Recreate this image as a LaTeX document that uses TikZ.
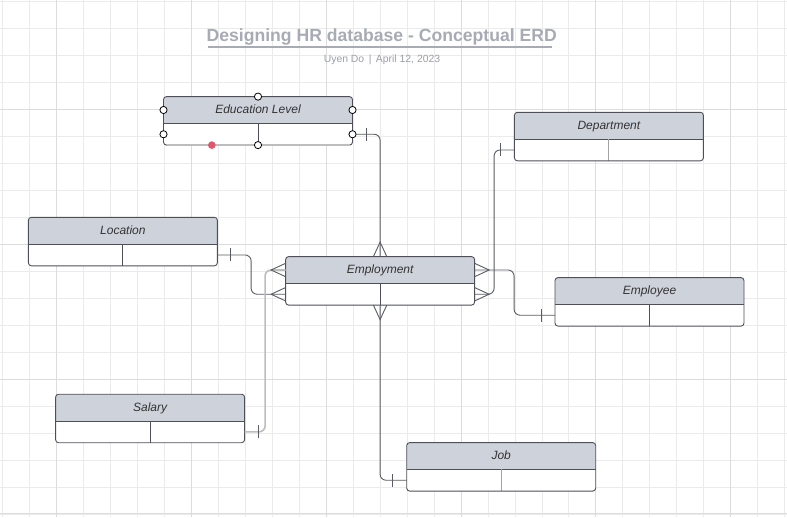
\documentclass[tikz,border=0pt]{standalone}
\usepackage{fontspec}
\setmainfont{Liberation Sans}
\usetikzlibrary{calc}
\definecolor{hdr}{HTML}{CED3DB}
\definecolor{bord}{HTML}{4D5058}
\definecolor{conncol}{HTML}{595C62}
\definecolor{gridminor}{HTML}{EBEBEB}
\definecolor{gridmajor}{HTML}{DCDCDC}
\definecolor{titlecol}{HTML}{A6ABB4}
\definecolor{subcol}{HTML}{9B9FA6}
\definecolor{selcol}{HTML}{BDBDBD}
\definecolor{reddot}{HTML}{E0566B}
\definecolor{lightdiv}{HTML}{A3A3A3}
\definecolor{textcol}{HTML}{333333}
\tikzset{
  boxframe/.style={rectangle, minimum width=189pt, minimum height=48.5pt, inner sep=0pt, outer sep=0pt, draw=none},
  lbl/.style={font=\fontsize{12}{14}\selectfont\itshape, text=textcol, inner sep=0pt, anchor=base},
  conn/.style={draw=conncol, line width=0.9pt},
  rc/.style={rounded corners=6pt},
  handle/.style={draw=black, fill=white, line width=0.8pt},
  minorline/.style={draw=gridminor, line width=0.8pt},
  majorline/.style={draw=gridmajor, line width=1pt}
}
% name, x, y (top-left), label, divider colour
\newcommand\erbox[5]{%
  \node[boxframe] (#1) at ({#2+94.5},{#3+24.25}) {};
  \coordinate (#1-hl) at ($(#1.north west)+(0,13.4)$);
  \coordinate (#1-hr) at ($(#1.north east)+(0,13.4)$);
  \coordinate (#1-bl) at ($(#1.north west)+(0,37.65)$);
  \coordinate (#1-br) at ($(#1.north east)+(0,37.65)$);
  \coordinate (#1-hbl) at ($(#1.north west)+(0,26.8)$);
  \coordinate (#1-hbr) at ($(#1.north east)+(0,26.8)$);
  \fill[white, rounded corners=3pt] (#1.north west) rectangle (#1.south east);
  \fill[hdr, rounded corners=3pt] (#1.north west) rectangle (#1-hbr);
  \fill[hdr] ($(#1-hbl)+(0,-4)$) rectangle (#1-hbr);
  \draw[bord, line width=0.9pt] (#1-hbl) -- (#1-hbr);
  \draw[#5, line width=0.9pt] (#1.south) -- ($(#1.north)+(0,26.8)$);
  \draw[bord, rounded corners=3pt, line width=0.9pt] (#1.north west) rectangle (#1.south east);
  \node[lbl] at ($(#1.north)+(0,16.8)$) {#4};
}
% crow's foot: point, tip offset (dx,dy), half spread (px,py)
\newcommand\crowfoot[5]{%
  \draw[conn] ($(#1)+(#4,#5)$) -- ($(#1)+(#2,#3)$) -- ($(#1)-(#4,#5)$);
}
% one-tick: point, offset (dx,dy), half length (px,py)
\newcommand\onetick[5]{%
  \draw[conn] ($(#1)+(#2,#3)+(#4,#5)$) -- ($(#1)+(#2,#3)-(#4,#5)$);
}
\begin{document}
\begin{tikzpicture}[x=1pt, y=-1pt]
  \useasboundingbox (0,0) rectangle (787,517);
  \fill[white] (0,0) rectangle (787,517);
  % grid
  \foreach \k in {0,...,29} \draw[minorline] ({2.7+26.96*\k},0) -- ({2.7+26.96*\k},517);
  \foreach \k in {0,...,19} \draw[minorline] (0,{1.7+26.96*\k}) -- (787,{1.7+26.96*\k});
  \foreach \k in {2,7,12,17,22,27} \draw[majorline] ({2.7+26.96*\k},0) -- ({2.7+26.96*\k},517);
  \foreach \k in {4,9,14,19} \draw[majorline] (0,{1.7+26.96*\k}) -- (787,{1.7+26.96*\k});

  % title
  \node[font=\fontsize{17.6}{20}\selectfont\bfseries, text=titlecol, inner sep=0pt, anchor=base] (title) at (381.7,41) {Designing HR database - Conceptual ERD};
  \draw[titlecol, line width=1.5pt] (208,47) -- (552,47);
  \node[font=\fontsize{10.4}{12}\selectfont, text=subcol, inner sep=0pt, anchor=base] (sub) at (382,62.3) {Uyen Do\hspace{4.5pt}|\hspace{4.5pt}April 12, 2023};

  % entities
  \erbox{edu}{163.5}{96.6}{Education Level}{bord}
  \erbox{dept}{514.4}{112.3}{Department}{lightdiv}
  \erbox{loc}{28.4}{217.3}{Location}{bord}
  \erbox{empl}{285.6}{256.6}{Employment}{bord}
  \erbox{empe}{555}{277.6}{Employee}{bord}
  \erbox{sal}{55.6}{394.2}{Salary}{bord}
  \erbox{job}{406.7}{442.6}{Job}{lightdiv}

  % helper bend points
  \coordinate (dm) at ($(empl-br)+(19.5,0)$);
  \coordinate (em) at ($(empl-hr)+(39.5,0)$);
  \coordinate (lm) at ($(empl-bl)+(-34.5,0)$);
  \coordinate (sm) at ($(empl-hl)+(-20.5,0)$);

  % connectors
  \draw[conn, rc] (edu-br) -| (empl.north);
  \draw[conn, rc] (dept-bl) -| (dm) -- (empl-br);
  \draw[conn, rc] (empl-hr) -- (em) |- (empe-bl);
  \draw[conn, rc] (loc-br) -| (lm) -- (empl-bl);
  \draw[draw=selcol, line width=1.6pt, rc] (sal-br) -| (sm) -- (empl-hl);
  \draw[conn, rc] (job-bl) -| (empl.south);

  % "one" ticks
  \onetick{edu-br}{14.2}{0}{0}{6.5}
  \onetick{dept-bl}{-14}{0}{0}{6.5}
  \onetick{loc-br}{13.5}{0}{0}{6.5}
  \onetick{empe-bl}{-13.5}{0}{0}{6.5}
  \onetick{sal-br}{13.7}{0}{0}{6.5}
  \onetick{job-bl}{-14.5}{0}{0}{6.5}

  % "many" crow's feet at Employment
  \crowfoot{empl.north}{0}{-14.5}{6.7}{0}
  \crowfoot{empl.south}{0}{14.5}{6.7}{0}
  \crowfoot{empl-hl}{-14.5}{0}{0}{6.7}
  \crowfoot{empl-bl}{-14.5}{0}{0}{6.7}
  \crowfoot{empl-hr}{14.5}{0}{0}{6.7}
  \crowfoot{empl-br}{14.5}{0}{0}{6.7}

  % selection marks on Education Level
  \draw[selcol, line width=1.6pt] ($(edu.south west)+(3,0)$) -- ($(edu.south east)+(-3,0)$);
  \foreach \p in {edu.north, edu-hl, edu-hr, edu-bl, edu-br, edu.south}
    \draw[handle] (\p) circle (3.6pt);
  \fill[reddot] ($(edu.south west)+(48.3,0)$) circle (3.8pt);
\end{tikzpicture}
\end{document}
